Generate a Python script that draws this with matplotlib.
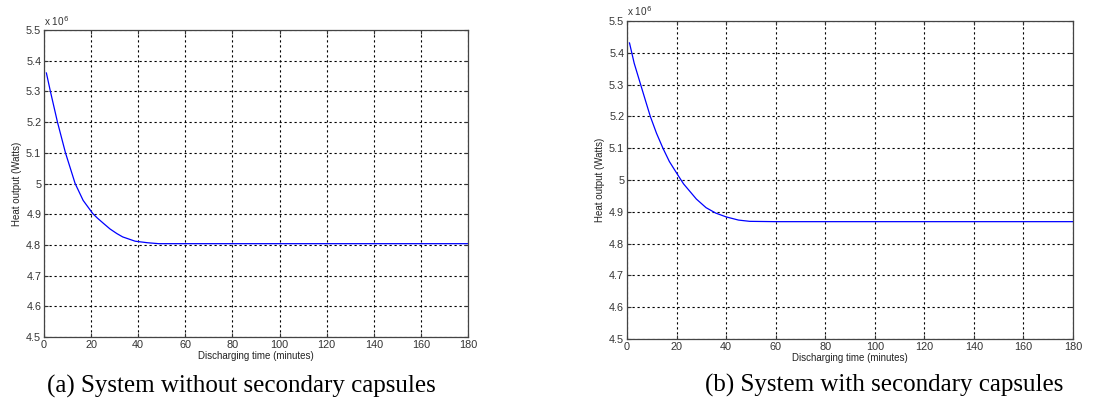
import numpy as np
import matplotlib
matplotlib.use("Agg")
import matplotlib.pyplot as plt

# values (heat output in units of 1e6 W)
t_a = [1.0, 2.7, 5.7, 9.1, 13.2, 16.6, 20.7, 22.7, 25.4, 28.0, 30.9, 33.4, 38.7, 44.0,
       48.7, 60, 100, 140, 180]
q_a = [5.360, 5.300, 5.200, 5.100, 5.000, 4.945, 4.902, 4.887, 4.869, 4.852, 4.837, 4.826,
       4.812, 4.807, 4.804, 4.804, 4.804, 4.804, 4.804]

t_b = [1.0, 2.9, 5.5, 7.4, 9.4, 11.9, 14.5, 17.1, 20.9, 22.8, 28.0, 31.9, 35.8, 40.0,
       45.0, 49.5, 60, 100, 140, 180]
q_b = [5.431, 5.367, 5.300, 5.251, 5.200, 5.147, 5.100, 5.058, 5.011, 4.988, 4.940, 4.913,
       4.896, 4.884, 4.874, 4.870, 4.869, 4.869, 4.869, 4.869]

x_ticks = list(range(0, 181, 20))
y_ticks = [4.5, 4.6, 4.7, 4.8, 4.9, 5.0, 5.1, 5.2, 5.3, 5.4, 5.5]

captions = ["(a) System without secondary capsules", "(b) System with secondary capsules"]


def style_axes(ax):
    ax.set_xlim(0, 180)
    ax.set_ylim(4.5, 5.5)
    ax.set_xticks(x_ticks)
    ax.set_yticks(y_ticks)
    ax.set_yticklabels([f"{v:g}" for v in y_ticks])
    ax.grid(True, color="black", linestyle=(0, (2, 2.5)), linewidth=0.8)
    ax.tick_params(direction="in", length=3, labelsize=7.8, pad=2,
                   top=True, right=True, colors="#333333", labelcolor="#333333")
    for s in ax.spines.values():
        s.set_color("#444444")
        s.set_linewidth(0.9)
    ax.set_xlabel("Discharging time (minutes)", fontsize=7.0, labelpad=1, color="#222222")
    ax.set_ylabel("Heat output (Watts)", fontsize=7.0, labelpad=3, color="#222222")
    ax.text(0, 1.008, r"x 10$^6$", transform=ax.transAxes, fontsize=7.2, color="#333333",
            ha="left", va="bottom")


plt.rcParams["font.family"] = ["Liberation Sans", "DejaVu Sans"]
fig = plt.figure(figsize=(11.01, 4.0), dpi=100)

ax1 = fig.add_axes([0.040, 0.1575, 0.385, 0.7675])
ax1.plot(t_a, q_a, color="blue", linewidth=0.9)
style_axes(ax1)

ax2 = fig.add_axes([0.5695, 0.1525, 0.405, 0.795])
ax2.plot(t_b, q_b, color="blue", linewidth=0.9)
style_axes(ax2)

fig.text(241 / 1101, 1 - 386 / 400, captions[0], family="Liberation Serif",
         fontsize=18, ha="center", va="center")
fig.text(884 / 1101, 1 - 385 / 400, captions[1], family="Liberation Serif",
         fontsize=18, ha="center", va="center")

fig.savefig("out.png", dpi=100)
